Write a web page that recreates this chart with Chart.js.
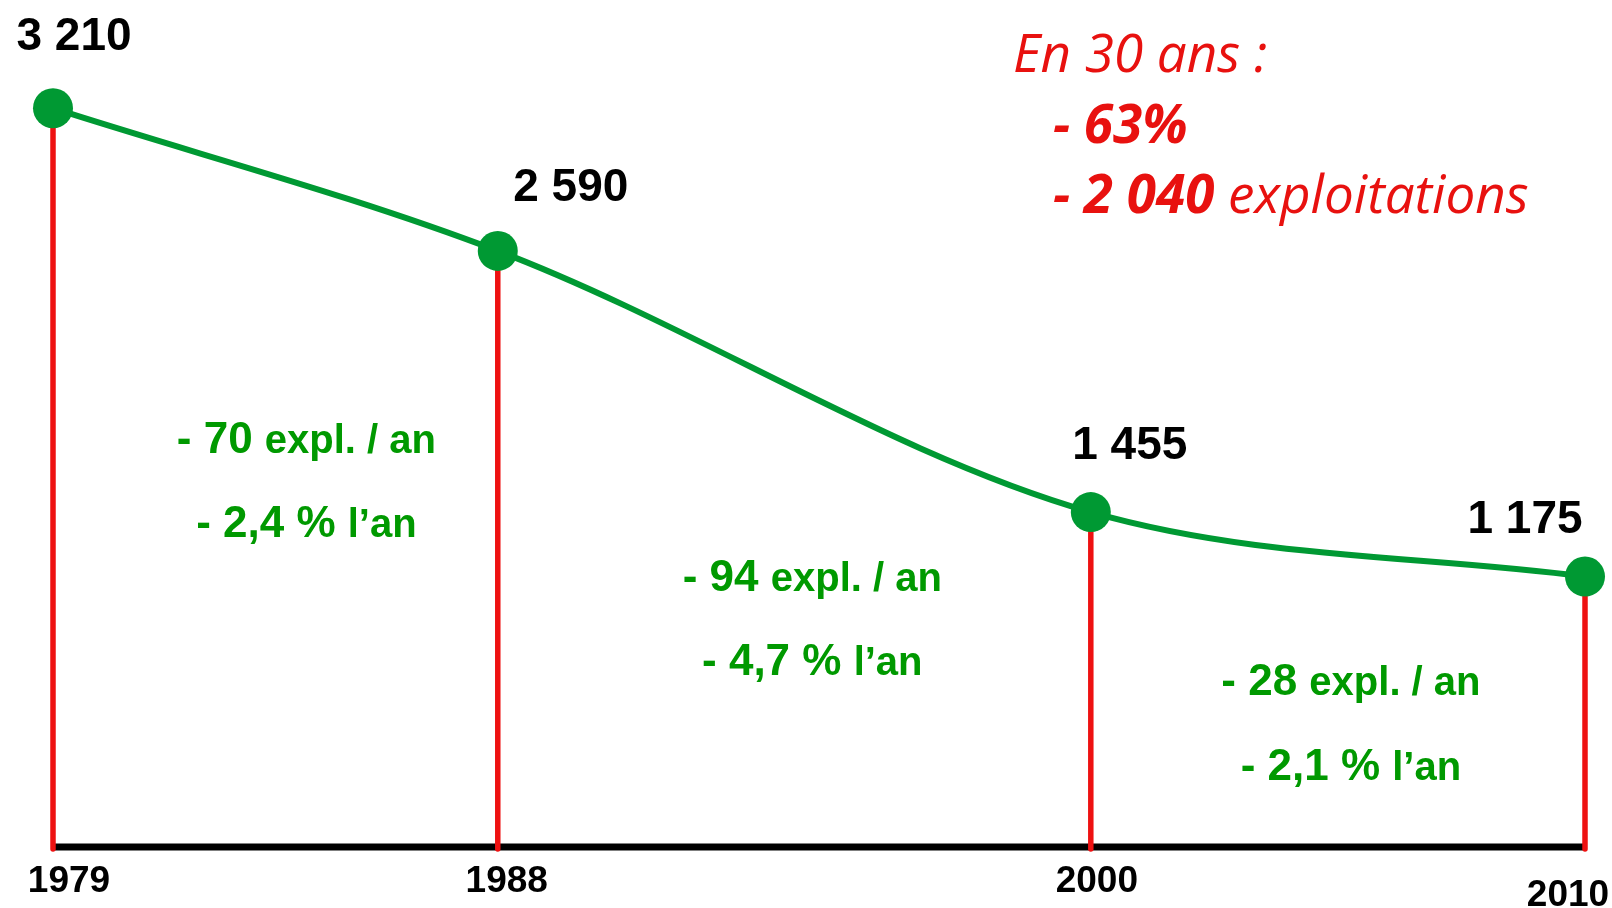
<!DOCTYPE html>
<html lang="fr">
<head>
<meta charset="utf-8">
<title>Exploitations 1979-2010</title>
<script src="https://cdn.jsdelivr.net/npm/chart.js@4/dist/chart.umd.min.js"></script>
<style>
  html, body { margin: 0; padding: 0; background: #fff; }
  .chart-wrap { width: 1612px; height: 908px; position: relative; }
</style>
</head>
<body>
<div class="chart-wrap"><canvas id="farms-chart-id"></canvas></div>
<script>
// ===================== DATA =====================
const years = [1979, 1988, 2000, 2010];
const farms = [3210, 2590, 1455, 1175];
const lossPerYear = [70, 94, 28];        // expl. / an, per period
const pctPerYear = [2.4, 4.7, 2.1];      // % l'an, per period
const spanYears = 30;
const totalPct = 63;
const totalLoss = 2040;

// ===================== LAYOUT / STYLE =====================
const GREEN_LINE = '#009933';
const GREEN_TEXT = '#009900';
const RED_LINE = '#ee1111';
const RED_TEXT = '#e8110f';
const SANS = '"Liberation Sans", Arial, sans-serif';
const ITAL = '"Open Sans", "Noto Sans", sans-serif';

// label offsets from each point (px)
const valueOffsets = [[21, -58], [73, -50], [39, -53], [-60, -44]];
// year labels: x offset from the point, baseline below the axis
const yearOffsets = [[16, 45], [9, 45], [6, 45], [-17, 59]];
// period notes: x offset from period middle, baselines of the two lines
const noteOffsets = [[31, 453, 537], [18, 591, 675], [13, 695, 780]];

const fmt = v => String(v).replace(/\B(?=(\d{3})+(?!\d))/g, ' ');
const dec = v => String(v).replace('.', ',');

// draw a list of text runs with mixed fonts on one baseline
function drawRuns(ctx, runs, x, y, align) {
  let total = 0;
  runs.forEach(r => { ctx.font = r.font; total += ctx.measureText(r.text).width; });
  let cx = align === 'center' ? x - total / 2 : x;
  ctx.textAlign = 'left';
  ctx.textBaseline = 'alphabetic';
  runs.forEach(r => {
    ctx.font = r.font;
    ctx.fillText(r.text, cx, y);
    cx += ctx.measureText(r.text).width;
  });
}

const overlay = {
  id: 'overlay',
  beforeDatasetsDraw(chart) {
    const { ctx, scales: { x, y } } = chart;
    const y0 = y.getPixelForValue(0);
    ctx.save();
    // black base line
    ctx.strokeStyle = '#000';
    ctx.lineWidth = 7;
    ctx.beginPath();
    ctx.moveTo(x.getPixelForValue(years[0]), y0);
    ctx.lineTo(x.getPixelForValue(years[years.length - 1]), y0);
    ctx.stroke();
    // red drop lines
    ctx.strokeStyle = RED_LINE;
    ctx.lineWidth = 5.5;
    ctx.lineCap = 'round';
    years.forEach((yr, i) => {
      const px = x.getPixelForValue(yr);
      ctx.beginPath();
      ctx.moveTo(px, y.getPixelForValue(farms[i]));
      ctx.lineTo(px, y0 + 2);
      ctx.stroke();
    });
    ctx.restore();
  },
  afterDatasetsDraw(chart) {
    const { ctx, scales: { x, y } } = chart;
    const y0 = y.getPixelForValue(0);
    ctx.save();

    // values above points
    ctx.fillStyle = '#000';
    farms.forEach((v, i) => {
      const [dx, dy] = valueOffsets[i];
      drawRuns(ctx, [{ text: fmt(v), font: 'bold 46px ' + SANS }],
        x.getPixelForValue(years[i]) + dx, y.getPixelForValue(v) + dy, 'center');
    });

    // year labels
    years.forEach((yr, i) => {
      const [dx, dy] = yearOffsets[i];
      drawRuns(ctx, [{ text: String(yr), font: 'bold 37px ' + SANS }],
        x.getPixelForValue(yr) + dx, y0 + dy, 'center');
    });

    // period notes
    ctx.fillStyle = GREEN_TEXT;
    lossPerYear.forEach((loss, i) => {
      const [dx, b1, b2] = noteOffsets[i];
      const mid = (x.getPixelForValue(years[i]) + x.getPixelForValue(years[i + 1])) / 2 + dx;
      drawRuns(ctx, [
        { text: '- ' + loss + ' ', font: 'bold 44px ' + SANS },
        { text: 'expl. / an', font: 'bold 40px ' + SANS }
      ], mid, b1, 'center');
      drawRuns(ctx, [
        { text: '- ' + dec(pctPerYear[i]) + ' % ', font: 'bold 44px ' + SANS },
        { text: 'l\u2019an', font: 'bold 40px ' + SANS }
      ], mid, b2, 'center');
    });

    // summary, top right
    ctx.fillStyle = RED_TEXT;
    drawRuns(ctx, [{ text: 'En ' + spanYears + ' ans :', font: 'italic 53px ' + ITAL }], 1013, 72, 'left');
    drawRuns(ctx, [{ text: '- ' + totalPct + '%', font: 'italic bold 53px ' + ITAL }], 1053, 143, 'left');
    drawRuns(ctx, [
      { text: '- ' + fmt(totalLoss) + ' ', font: 'italic bold 53px ' + ITAL },
      { text: 'exploitations', font: 'italic 53px ' + ITAL }
    ], 1053, 213, 'left');

    ctx.restore();
  }
};

// ===================== LINE CHART =====================
const farmsCtx = document.getElementById('farms-chart-id');
if (farmsCtx) {
  new Chart(farmsCtx, {
    type: 'line',
    data: {
      datasets: [{
        label: 'Exploitations',
        data: years.map((yr, i) => ({ x: yr, y: farms[i] })),
        borderColor: GREEN_LINE,
        backgroundColor: GREEN_LINE,
        borderWidth: 6,
        cubicInterpolationMode: 'monotone',
        pointRadius: 20,
        pointHoverRadius: 20,
        pointBorderWidth: 0,
        pointBackgroundColor: GREEN_LINE,
        clip: false,
        fill: false
      }]
    },
    options: {
      responsive: true,
      maintainAspectRatio: false,
      animation: false,
      layout: { autoPadding: false, padding: { left: 53, right: 27, top: 0, bottom: 61 } },
      plugins: {
        legend: { display: false },
        title: { display: false },
        tooltip: { enabled: false }
      },
      scales: {
        x: { type: 'linear', min: years[0], max: years[years.length - 1], display: false },
        y: { min: 0, max: 3680, display: false }
      }
    },
    plugins: [overlay]
  });
}
</script>
</body>
</html>
